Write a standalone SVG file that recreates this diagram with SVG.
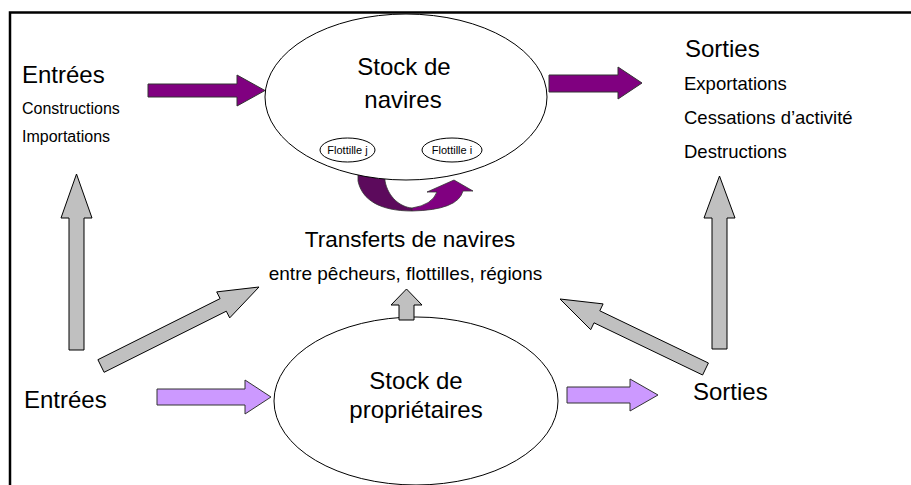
<svg xmlns="http://www.w3.org/2000/svg" width="911" height="485" viewBox="0 0 911 485">
<style>
text{font-family:"Liberation Sans",Arial,sans-serif;fill:#000}
.ell{fill:#fff;stroke:#000;stroke-width:1}
.pur{fill:#800080;stroke:#333;stroke-width:1}
.lav{fill:#cc99ff;stroke:#333;stroke-width:1}
.gry{fill:#c0c0c0;stroke:#000;stroke-width:1}
.h{font-size:24px}
.l16{font-size:16px}
.l19{font-size:18.5px}
.fl{font-size:11px}
</style>
<rect x="10" y="12.5" width="940" height="520" fill="#fff" stroke="#000" stroke-width="2.5"/>
<g id="connectors">
<path d="M358,170 L385,170 L385,181 C388,197 400,207 412,208 L412,211 C380,211 362,200 358,181 Z" fill="#5c0a5c" stroke="#333" stroke-width="0.8"/>
<path d="M412,211 Q458,210 463,191 L473,191 L454,180 L427,192 L437,192 Q432,205 412,208 Z" fill="#800080" stroke="#333" stroke-width="0.8"/>
</g>
<g id="node-navires">
<ellipse class="ell" cx="406" cy="97" rx="141" ry="83"/>
<text class="h" x="404" y="75" text-anchor="middle">Stock de</text>
<text class="h" x="403" y="108" text-anchor="middle">navires</text>
<g id="flottille-j">
<ellipse class="ell" cx="347.5" cy="150" rx="27.5" ry="12"/>
<text class="fl" x="347.5" y="154" text-anchor="middle">Flottille j</text>
</g>
<g id="flottille-i">
<ellipse class="ell" cx="452" cy="150" rx="30" ry="12"/>
<text class="fl" x="452" y="154" text-anchor="middle">Flottille i</text>
</g>
</g>
<g id="node-proprietaires">
<ellipse class="ell" cx="416" cy="401" rx="142" ry="84"/>
<text class="h" x="416" y="389" text-anchor="middle">Stock de</text>
<text class="h" x="416" y="418" text-anchor="middle">propriétaires</text>
</g>
<g id="node-entrees-navires">
<text class="h" x="22" y="83">Entrées</text>
<text class="l16" x="22" y="114">Constructions</text>
<text class="l16" x="22" y="142">Importations</text>
</g>
<g id="node-sorties-navires">
<text class="h" x="685" y="57">Sorties</text>
<text class="l19" x="684" y="90">Exportations</text>
<text class="l19" x="684" y="124">Cessations d’activité</text>
<text class="l19" x="684" y="158">Destructions</text>
</g>
<g id="node-transferts">
<text style="font-size:22.5px" x="410" y="247" text-anchor="middle">Transferts de navires</text>
<text style="font-size:19px" x="405.5" y="280" text-anchor="middle">entre pêcheurs, flottilles, régions</text>
</g>
<g id="node-entrees-prop">
<text class="h" x="24" y="408">Entrées</text>
</g>
<g id="node-sorties-prop">
<text class="h" x="693" y="400">Sorties</text>
</g>
<g id="arrows">
<polygon class="pur" points="148,84 237,84 237,75 265,90.5 237,106 237,97 148,97"/>
<polygon class="pur" points="549,75 618,75 618,67 642,83 618,99 618,92 549,92"/>
<polygon class="lav" points="157,389 245,389 245,380 271,397 245,414 245,405 157,405"/>
<polygon class="lav" points="567,387 630,387 630,379 658,395 630,411 630,403 567,403"/>
<polygon class="gry" points="69,350 69,218 61,218 76.5,174 92,218 84,218 84,350"/>
<polygon class="gry" points="712,349 712,218 704,218 719.5,176 735,218 727,218 727,349"/>
<polygon class="gry" points="399,320 399,305 391,305 406.5,289 422,305 414,305 414,320"/>
<polygon class="gry" points="97.9,359.7 220.1,298.6 216.7,291.9 259,287 229.7,317.9 226.3,311.2 104.1,372.3"/>
<polygon class="gry" points="702.6,375 594,322.8 590.7,329.7 560,299 603.1,303.9 599.8,310.8 708.4,363"/>
</g>
</svg>
